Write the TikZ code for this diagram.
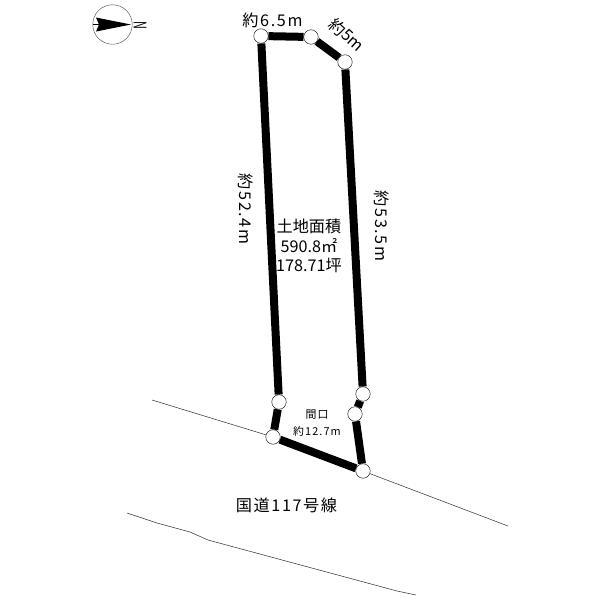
\documentclass[tikz,border=0pt]{standalone}
\usepackage{fontspec}
\usetikzlibrary{calc}
\setmainfont{Noto Sans CJK JP}
\newfontfamily\spaced[LetterSpace=10]{Noto Sans CJK JP}
\begin{document}
\begin{tikzpicture}[x=0.02cm, y=-0.02cm,
                peg/.style={circle, draw=black, fill=white, line width=0.25pt, minimum size=0.29cm, inner sep=0pt},
                lot/.style={line width=0.16cm, line cap=butt},
                road/.style={line width=0.3pt, draw=black!80},
                big/.style={font=\fontsize{9.2}{10}\selectfont\spaced, inner sep=0pt},
                plainbig/.style={font=\fontsize{9.2}{10}\selectfont, inner sep=0pt},
                small/.style={font=\fontsize{6.2}{8}\selectfont\spaced, inner sep=0pt},
              ]
  \useasboundingbox (0,0) rectangle (600,600);
  \node [peg] at (261,36) (a) {};
  \node [peg] at (311,37) (b) {};
  \node [peg] at (345,62) (c) {};
  \node [peg] at (363,394) (d) {};
  \node [peg] at (355,414) (e) {};
  \node [peg] at (363,471) (f) {};
  \node [peg] at (273,437) (g) {};
  \node [peg] at (279,402) (h) {};
  \draw [lot] (a) -- (b);
  \draw [lot] (b) -- (c);
  \draw [lot] (c) -- (d);
  \draw [lot] (d) -- (e);
  \draw [lot] (e) -- (f);
  \draw [lot] (f) -- (g);
  \draw [lot] (g) -- (h);
  \draw [lot] (h) -- (a);

  % road edges
  \coordinate (r1) at (152,400);
  \coordinate (r2) at (508,526);
  \draw [road] (r1) -- (g);
  \draw [road] (f) -- (r2);
  \draw [road] (127,513) -- (157,523) -- (190,532) -- (208,540) -- (397,591) -- (416,595);

  % compass
  \node [circle, draw=black!70, line width=0.25pt, minimum size=0.79cm, inner sep=0pt] at (112.5,24.5) (compass) {};
  \fill (131,24.5) -- (96,17.5) -- (99,24.5) -- (96,31.5) -- cycle;
  \draw [line width=0.3pt] (93,24.5) -- (99,24.5);
  \node [font=\fontsize{10}{11}\selectfont, yscale=0.62, rotate=-90, inner sep=0pt] at (140,25) (north) {N};

  \node [big] at (272.5,20) (top) {約6.5m};
  \node [plainbig, rotate=-42] at (347,35) (slant) {約5m};
  \node [big, rotate=-90] at (246,209) (left) {約52.4m};
  \node [big, rotate=-90] at (382,226) (right) {約53.5m};
  \node [plainbig] at (309,226) (area1) {土地面積};
  \node [plainbig] at (309,246) (area2) {590.8㎡};
  \node [plainbig] at (309,265) (area3) {178.71坪};
  \node [small] at (317,415) (front1) {間口};
  \node [small] at (317,431) (front2) {約12.7m};
  \node [big] at (286.5,505) (route) {国道117号線};
\end{tikzpicture}
\end{document}
